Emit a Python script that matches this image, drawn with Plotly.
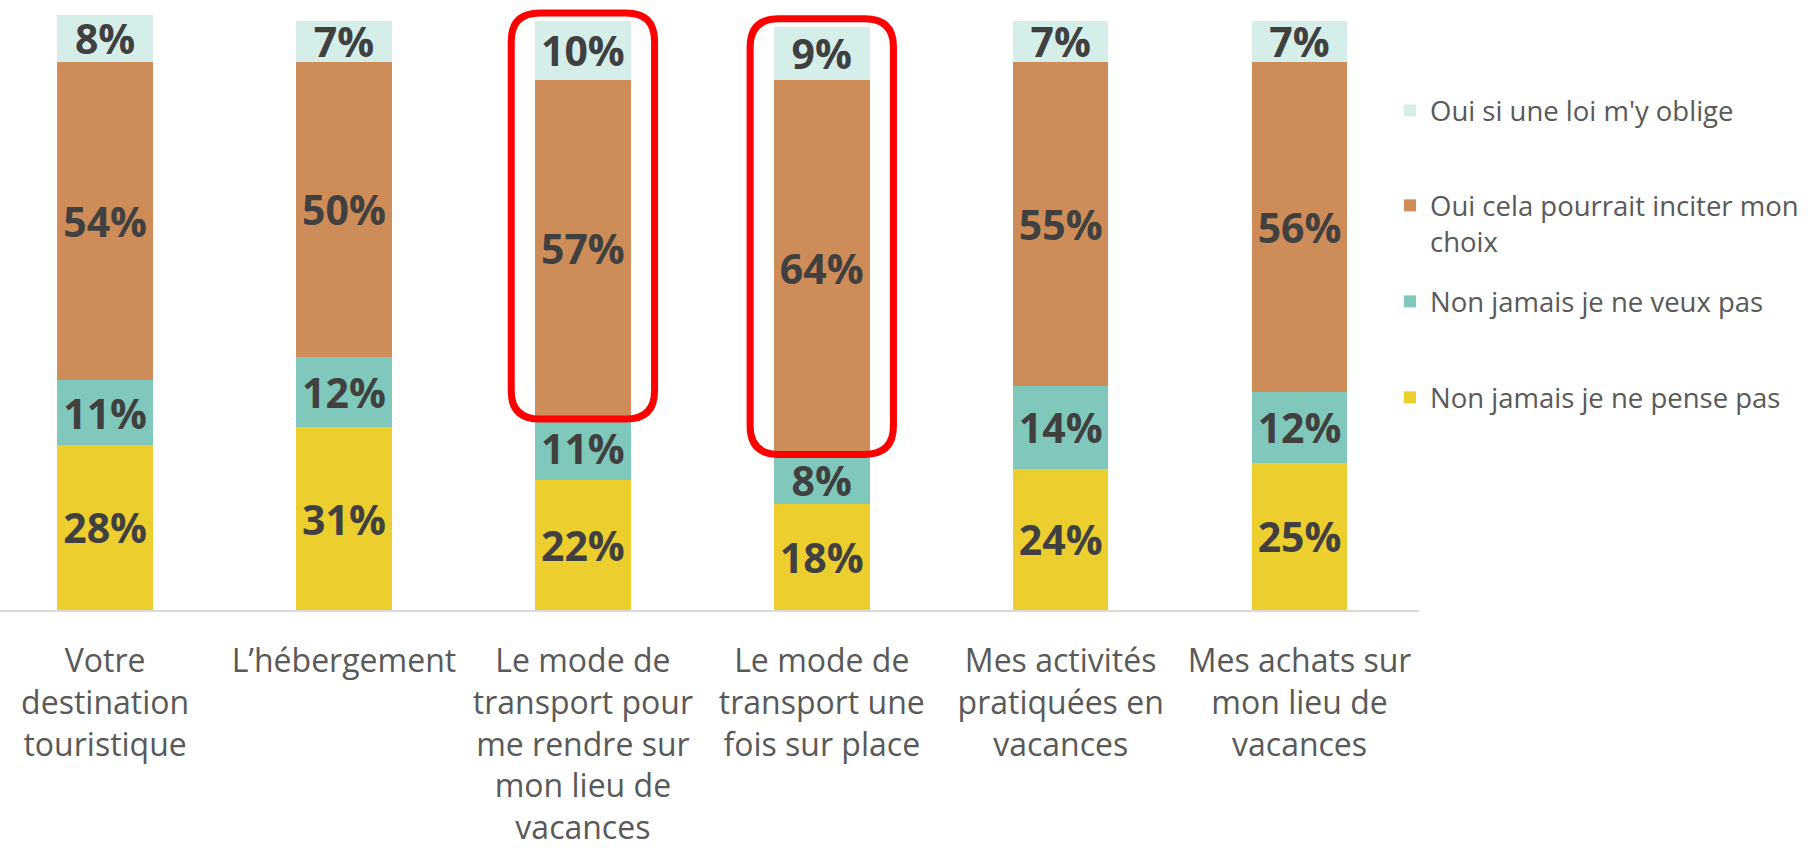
import plotly.graph_objects as go

categories = [
    "Votre<br>destination<br>touristique",
    "L’hébergement",
    "Le mode de<br>transport pour<br>me rendre sur<br>mon lieu de<br>vacances",
    "Le mode de<br>transport une<br>fois sur place",
    "Mes activités<br>pratiquées en<br>vacances",
    "Mes achats sur<br>mon lieu de<br>vacances",
]
non_pense_pas = [28, 31, 22, 18, 24, 25]
non_veux_pas = [11, 12, 11, 8, 14, 12]
oui_inciter = [54, 50, 57, 64, 55, 56]
oui_loi = [8, 7, 10, 9, 7, 7]

series_names = [
    "Non jamais je ne pense pas",
    "Non jamais je ne veux pas",
    "Oui cela pourrait inciter mon<br>choix",
    "Oui si une loi m'y oblige",
]
series_values = [non_pense_pas, non_veux_pas, oui_inciter, oui_loi]
colors = ["#ECCE2E", "#80C8BB", "#CD8C58", "#D6EEEA"]
legend_ids = ["legend4", "legend3", "legend2", "legend"]
highlighted = [2, 3]

W, H = 1808, 854
x_idx = list(range(len(categories)))

fig = go.Figure()
for name, vals, col, lg in zip(series_names, series_values, colors, legend_ids):
    fig.add_trace(go.Bar(
        x=x_idx, y=vals, name=name, marker=dict(color=col, line=dict(width=0)),
        width=0.4, text=[f"{v}%" for v in vals], textposition="inside",
        insidetextanchor="middle", textangle=0,
        textfont=dict(family="Open Sans", size=41, color="#404040", weight="bold"),
        legend=lg, hoverinfo="skip",
    ))

# red rounded highlight boxes
shapes = []
for i in highlighted:
    x0, x1 = i - 0.30, i + 0.30
    y0 = non_pense_pas[i] + non_veux_pas[i]
    y1 = y0 + oui_inciter[i] + oui_loi[i] + 1.3
    if i == 3:
        y0 += 1
    y0 -= 0.6
    rx, ry = 0.12, 4.8
    path = (f"M {x0+rx},{y0} L {x1-rx},{y0} Q {x1},{y0} {x1},{y0+ry} "
            f"L {x1},{y1-ry} Q {x1},{y1} {x1-rx},{y1} L {x0+rx},{y1} "
            f"Q {x0},{y1} {x0},{y1-ry} L {x0},{y0+ry} Q {x0},{y0} {x0+rx},{y0} Z")
    shapes.append(dict(type="path", path=path, xref="x", yref="y",
                       line=dict(color="#FF0000", width=7), layer="above"))

legend_font = dict(family="Open Sans", size=27.5, color="#595959")
leg_left = 1390
leg_tops = [86, 181, 277, 373]

def leg(top):
    return dict(x=leg_left / W, y=1 - top / H, xref="container", yref="container",
                xanchor="left", yanchor="top", font=legend_font, valign="top",
                bgcolor="rgba(0,0,0,0)", borderwidth=0)

fig.update_layout(
    width=W, height=H,
    margin=dict(l=0, r=W - 1419, t=0, b=H - 610, pad=0, autoexpand=False),
    barmode="stack",
    plot_bgcolor="white", paper_bgcolor="white",
    showlegend=True,
    legend=leg(leg_tops[0]), legend2=leg(leg_tops[1]),
    legend3=leg(leg_tops[2]), legend4=leg(leg_tops[3]),
    uniformtext=dict(mode="show", minsize=41),
    shapes=shapes,
    xaxis=dict(range=[-0.44, 5.5], tickvals=x_idx, ticktext=categories,
               showgrid=False, zeroline=False, showline=True, linecolor="#D9D9D9",
               linewidth=2, ticks="", tickangle=0, ticklabelstandoff=22,
               tickfont=dict(family="Open Sans", size=32, color="#595959")),
    yaxis=dict(range=[0, 103.5], visible=False, showgrid=False, zeroline=False),
)

fig.write_html("out.html", config={"displayModeBar": False},
               post_script="document.body.style.margin='0px';")
